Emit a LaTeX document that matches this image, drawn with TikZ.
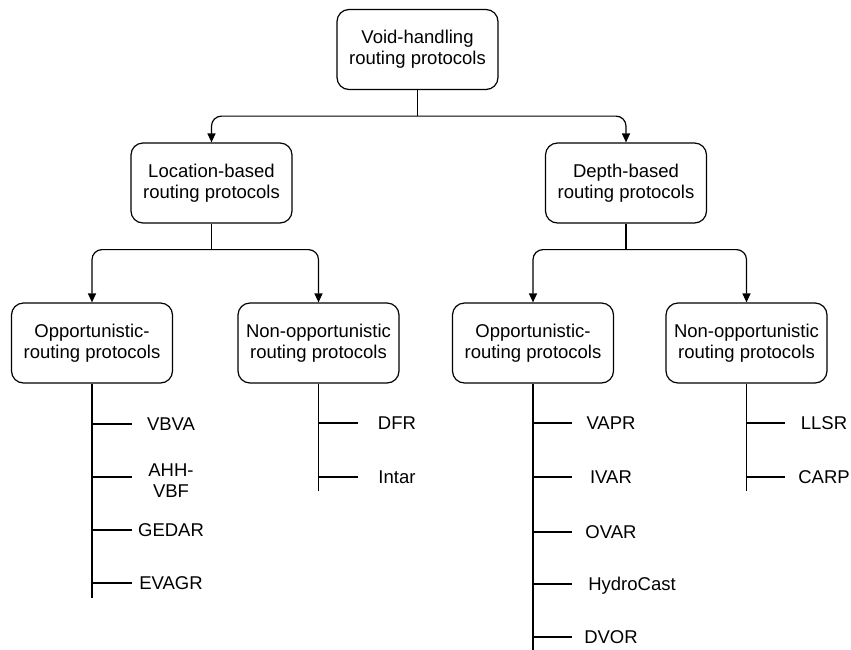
\documentclass[tikz,border=0pt]{standalone}
\usepackage{fontspec}
\setmainfont{Liberation Sans}
\usetikzlibrary{arrows.meta}
\begin{document}
\begin{tikzpicture}[x=1pt,y=-1pt,
  font=\fontsize{18.5}{21}\selectfont,
  box/.style={draw, rounded corners=12pt, line width=1.2pt, minimum width=161pt,
    minimum height=80pt, align=center, inner sep=0pt},
  link/.style={line width=1.2pt},
  arr/.style={link, rounded corners=10pt, -{Triangle[length=9pt,width=8pt]}},
  leaf/.style={inner sep=0pt, minimum width=78pt, align=center,
    text height=13.3pt, text depth=0pt}
]
\useasboundingbox (0,0) rectangle (851,649);

% category boxes
\node[box] (top)  at (417.5,49.5) {Void-handling\\routing protocols};
\node[box] (loc)  at (211.5,183)  {Location-based\\routing protocols};
\node[box] (dep)  at (626,183)    {Depth-based\\routing protocols};
\node[box] (oppL) at (92,343)     {Opportunistic-\\routing protocols};
\node[box] (nonL) at (318.5,343)  {Non-opportunistic\\routing protocols};
\node[box] (oppR) at (533,343)    {Opportunistic-\\routing protocols};
\node[box] (nonR) at (746.5,343)  {Non-opportunistic\\routing protocols};

% elbow connectors between levels
\path (top.south) ++(0,26) coordinate (j0);
\draw[link] (top.south) -- (j0);
\draw[arr] (j0) -| (loc.north);
\draw[arr] (j0) -| (dep.north);

\path (loc.south) ++(0,26) coordinate (j1);
\draw[link] (loc.south) -- (j1);
\draw[arr] (j1) -| (oppL.north);
\draw[arr] (j1) -| (nonL.north);

\path (dep.south) ++(0,26) coordinate (j2);
\draw[link] (dep.south) -- (j2);
\draw[arr] (j2) -| (oppR.north);
\draw[arr] (j2) -| (nonR.north);

% protocol lists
\draw[link] (oppL.south) -- ++(0,214) coordinate (eoL);
\draw[link] (nonL.south) -- ++(0,107) coordinate (enL);
\draw[link] (oppR.south) -- ++(0,275) coordinate (eoR);
\draw[link] (nonR.south) -- ++(0,107) coordinate (enR);

\node[leaf] (vbva)  at (171,424) {VBVA};
\node[inner sep=0pt, minimum width=78pt, align=center] (ahh) at (171,481) {AHH-\\VBF};
\node[leaf] (gedar) at (171,530) {GEDAR};
\node[leaf] (evagr) at (171,583) {EVAGR};
\foreach \n in {vbva,gedar,evagr}
  \draw[link] (\n.west -| oppL.south) -- (\n.west);
\draw[link] (oppL.south |- 0,477) coordinate (b1) -- (ahh.west |- b1);

\node[leaf] (dfr)   at (397,423) {DFR};
\node[leaf] (intar) at (397,477) {Intar};
\foreach \n in {dfr,intar}
  \draw[link] (\n.west -| nonL.south) -- (\n.west);

\node[leaf] (vapr)  at (611,423) {VAPR};
\node[leaf] (ivar)  at (611,477) {IVAR};
\node[leaf] (ovar)  at (611,532) {OVAR};
\node[leaf, minimum width=120pt] (hydro) at (632,584) {HydroCast};
\node[leaf] (dvor)  at (611,637) {DVOR};
\foreach \n in {vapr,ivar,ovar,dvor}
  \draw[link] (\n.west -| oppR.south) -- (\n.west);
\draw[link] (hydro.west -| oppR.south) -- (ivar.west |- hydro.west);

\node[leaf] (llsr) at (824,423) {LLSR};
\node[leaf] (carp) at (824,477) {CARP};
\foreach \n in {llsr,carp}
  \draw[link] (\n.west -| nonR.south) -- (\n.west);
\end{tikzpicture}
\end{document}
